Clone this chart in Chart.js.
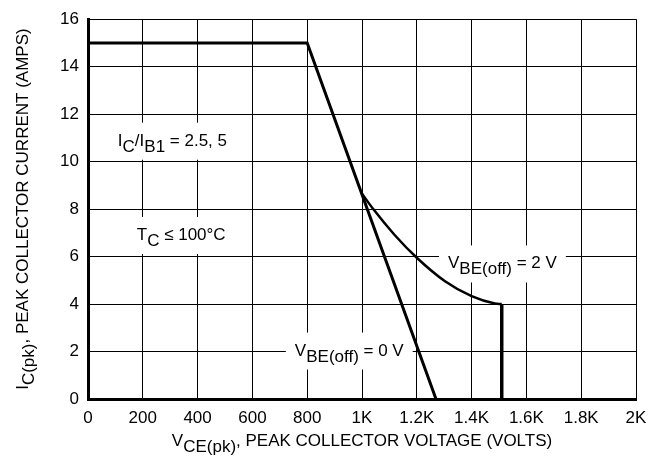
<!DOCTYPE html>
<html>
<head>
<meta charset="utf-8">
<script src="https://cdn.jsdelivr.net/npm/chart.js@4"></script>
<style>
  body { margin: 0; background: #fff; }
  #soa { display: block; }
</style>
</head>
<body>
<canvas id="soa" width="663" height="461"></canvas>
<script>
    // limit curves (volts, amps)
    const vbe0X = [0, 800, 1270];
    const vbe0Y = [15, 15, 0];
    const vbe2X = [1000, 1041, 1120, 1200, 1303, 1400, 1485, 1510];
    const vbe2Y = [8.65, 8, 6.9, 5.95, 4.96, 4.33, 4.02, 4];
    const dropX = [1510, 1510];
    const dropY = [4, 0];

    const xTicks = [0, 200, 400, 600, 800, 1000, 1200, 1400, 1600, 1800, 2000];
    const xTickLabels = ['0', '200', '400', '600', '800', '1K', '1.2K', '1.4K', '1.6K', '1.8K', '2K'];
    const yTicks = [0, 2, 4, 6, 8, 10, 12, 14, 16];

    const FONT = '17px "Liberation Sans", Arial, sans-serif';

    function pts(xs, ys) {
        return xs.map((x, i) => ({ x: x, y: ys[i] }));
    }

    // [text, baseline shift] pieces
    function richWidth(ctx, parts) {
        return parts.reduce((w, p) => w + ctx.measureText(p[0]).width, 0);
    }
    function drawRich(ctx, parts, x, y) {
        let cx = x;
        parts.forEach(p => {
            ctx.fillText(p[0], cx, y + p[1]);
            cx += ctx.measureText(p[0]).width;
        });
    }

    // labels placed at data coords (left edge, baseline)
    const notes = [
        { x: 109, y: 10.67, parts: [['I', 0], ['C', 6], ['/I', 0], ['B1', 6], [' = 2.5, 5', 0]] },
        { x: 178, y: 6.7, parts: [['T', 0], ['C', 6], [' \u2264 100\u00b0C', 0]] },
        { x: 1314, y: 5.5, parts: [['V', 0], ['BE(off)', 6], [' = 2 V', 0]] },
        { x: 755, y: 1.83, parts: [['V', 0], ['BE(off)', 6], [' = 0 V', 0]] }
    ];

    const notesPlugin = {
        id: 'notes',
        beforeDatasetsDraw(chart) {
            const ctx = chart.ctx;
            const xs = chart.scales.x, ys = chart.scales.y;
            ctx.save();
            ctx.font = FONT;
            ctx.fillStyle = '#000';
            ctx.textBaseline = 'alphabetic';
            notes.forEach(n => {
                const px = xs.getPixelForValue(n.x);
                const py = ys.getPixelForValue(n.y);
                const w = richWidth(ctx, n.parts);
                ctx.fillStyle = '#fff';
                ctx.fillRect(px - 9, py - 23, w + 18, 37);
                ctx.fillStyle = '#000';
                drawRich(ctx, n.parts, px, py);
            });
            ctx.restore();
        },
        afterDraw(chart) {
            const ctx = chart.ctx;
            const a = chart.chartArea;
            ctx.save();
            ctx.font = FONT;
            ctx.fillStyle = '#000';
            const xt = [['V', 0], ['CE(pk)', 6], [', PEAK COLLECTOR VOLTAGE (VOLTS)', 0]];
            const wx = richWidth(ctx, xt);
            drawRich(ctx, xt, (a.left + a.right) / 2 - wx / 2, 446);
            const yt = [['I', 0], ['C(pk)', 6], [', PEAK COLLECTOR CURRENT (AMPS)', 0]];
            const wy = richWidth(ctx, yt);
            ctx.translate(28, (a.top + a.bottom) / 2);
            ctx.rotate(-Math.PI / 2);
            drawRich(ctx, yt, -wy / 2, 0);
            ctx.restore();
        }
    };

    const config = {
        type: 'scatter',
        data: {
            datasets: [{
                label: 'VBE(off) = 0 V',
                data: pts(vbe0X, vbe0Y),
                showLine: true,
                borderColor: '#000',
                borderWidth: 3,
                pointRadius: 0,
                tension: 0
            }, {
                label: 'VBE(off) = 2 V',
                data: pts(vbe2X, vbe2Y),
                showLine: true,
                borderColor: '#000',
                borderWidth: 2.5,
                pointRadius: 0,
                cubicInterpolationMode: 'monotone'
            }, {
                label: 'drop',
                data: pts(dropX, dropY),
                showLine: true,
                borderColor: '#000',
                borderWidth: 3.5,
                pointRadius: 0
            }]
        },
        options: {
            responsive: false,
            animation: false,
            layout: { padding: { top: 15, right: 27, left: 0, bottom: 0 } },
            scales: {
                x: {
                    type: 'linear',
                    min: 0,
                    max: 2000,
                    afterBuildTicks: s => { s.ticks = xTicks.map(v => ({ value: v })); },
                    afterFit: s => { s.height = 62; },
                    ticks: {
                        color: '#000',
                        font: { family: '"Liberation Sans", Arial, sans-serif', size: 17 },
                        padding: 9,
                        maxRotation: 0,
                        callback: v => xTickLabels[xTicks.indexOf(v)]
                    },
                    grid: { color: '#000', lineWidth: 1, drawTicks: false },
                    border: { color: '#000', width: 3 }
                },
                y: {
                    min: 0,
                    max: 16,
                    afterBuildTicks: s => { s.ticks = yTicks.map(v => ({ value: v })); },
                    afterFit: s => { s.width = 88; },
                    ticks: {
                        color: '#000',
                        font: { family: '"Liberation Sans", Arial, sans-serif', size: 17 },
                        padding: 9
                    },
                    grid: { color: '#000', lineWidth: 1, drawTicks: false },
                    border: { color: '#000', width: 3 }
                }
            },
            plugins: {
                legend: { display: false },
                tooltip: { enabled: false }
            }
        },
        plugins: [notesPlugin]
    };

    new Chart(document.getElementById('soa'), config);
</script>
</body>
</html>
